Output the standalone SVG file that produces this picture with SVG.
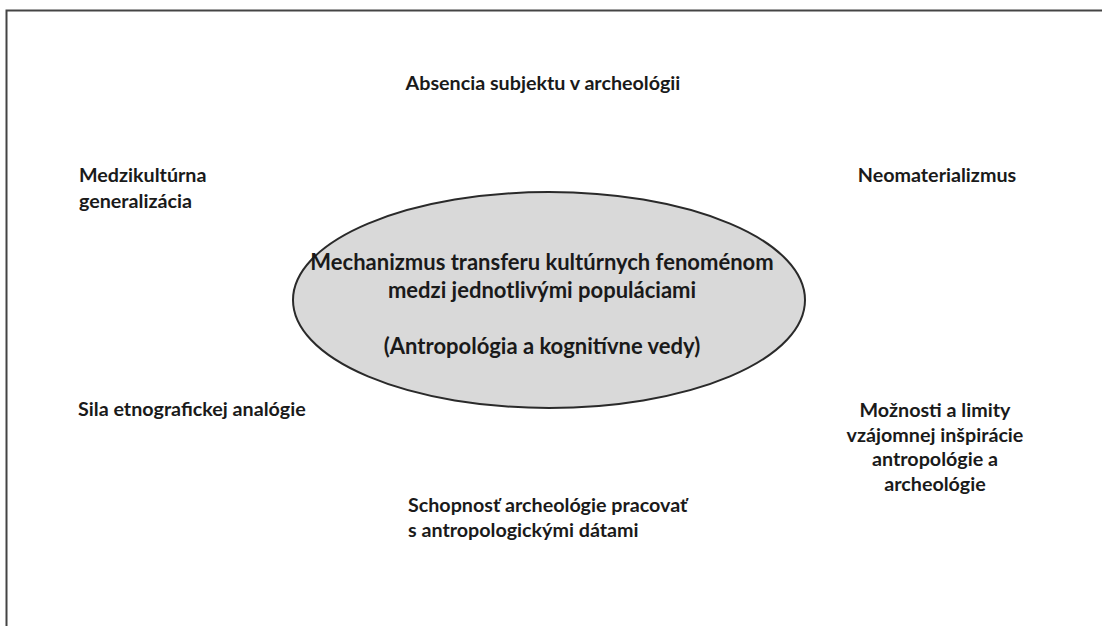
<svg xmlns="http://www.w3.org/2000/svg" width="1102" height="626" viewBox="0 0 1102 626">
<style>
.t{font-family:Lato,"Open Sans","Liberation Sans",sans-serif;font-weight:bold;fill:#1a1a1a;font-size:19.7px}
.c{font-size:22px}
.m{text-anchor:middle}
</style>
<rect width="1102" height="626" fill="#ffffff"/>
<g id="frame">
<path d="M6.5 626 V10.5 H1102" fill="none" stroke="#444" stroke-width="2"/>
</g>
<g id="connectors"></g>
<g id="center">
<ellipse cx="549" cy="300" rx="256" ry="108" fill="#d9d9d9" stroke="#2a2a2a" stroke-width="2"/>
<text class="t c m" x="542" y="270">Mechanizmus transferu kultúrnych fenoménom</text>
<text class="t c m" x="542" y="298">medzi jednotlivými populáciami</text>
<text class="t c m" x="542" y="354">(Antropológia a kognitívne vedy)</text>
</g>
<g id="n-absencia"><text class="t m" x="543" y="90">Absencia subjektu v archeológii</text></g>
<g id="n-medzikulturna"><text class="t" x="79" y="182">Medzikultúrna</text><text class="t" x="79" y="208">generalizácia</text></g>
<g id="n-neomaterializmus"><text class="t m" x="937" y="182">Neomaterializmus</text></g>
<g id="n-sila"><text class="t" x="78" y="416">Sila etnografickej analógie</text></g>
<g id="n-moznosti">
<text class="t m" x="935" y="417">Možnosti a limity</text>
<text class="t m" x="935" y="442">vzájomnej inšpirácie</text>
<text class="t m" x="935" y="466">antropológie a</text>
<text class="t m" x="935" y="491">archeológie</text>
</g>
<g id="n-schopnost"><text class="t" x="408" y="512">Schopnosť archeológie pracovať</text><text class="t" x="408" y="537">s antropologickými dátami</text></g>
</svg>
